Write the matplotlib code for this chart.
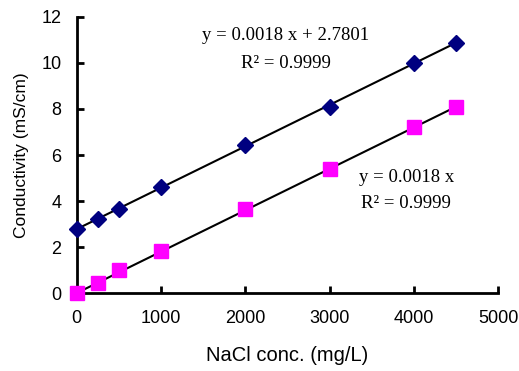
import matplotlib
matplotlib.use("Agg")
import matplotlib.pyplot as plt
import numpy as np

conc = [0, 250, 500, 1000, 2000, 3000, 4000, 4500]
cond_a = [2.78, 3.22, 3.65, 4.61, 6.45, 8.10, 10.02, 10.87]
cond_b = [0.01, 0.43, 0.98, 1.83, 3.67, 5.41, 7.22, 8.10]
fit_a = [0.0018, 2.7801]
fit_b = [0.0018, 0.0]
xticks = [0, 1000, 2000, 3000, 4000, 5000]
yticks = [0, 2, 4, 6, 8, 10, 12]

fig = plt.figure(figsize=(5.19, 3.71), dpi=100)
ax = fig.add_axes([0.148, 0.2102, 0.812, 0.744])

xl = np.array([conc[0], conc[-1]])
ax.plot(xl, fit_a[0] * xl + fit_a[1], color="black", lw=1.5, zorder=2)
ax.plot(xl, fit_b[0] * xl + fit_b[1], color="black", lw=1.5, zorder=2)
ax.plot(conc, cond_a, linestyle="none", marker="D", ms=8.5, color="#000080",
        mec="#000080", zorder=3, clip_on=False)
ax.plot(conc, cond_b, linestyle="none", marker="s", ms=9.5, color="#FF00FF",
        mec="#FF00FF", zorder=3, clip_on=False)

ax.set_xlim(0, 5000)
ax.set_ylim(0, 12)
ax.set_xticks(xticks)
ax.set_yticks(yticks)
for s in ["top", "right"]:
    ax.spines[s].set_visible(False)
for s in ["left", "bottom"]:
    ax.spines[s].set_linewidth(2)
ax.tick_params(direction="in", length=5, width=2, labelsize=13)
ax.tick_params(axis="x", pad=12)
ax.tick_params(axis="y", pad=11)
for lab in ax.get_xticklabels() + ax.get_yticklabels():
    lab.set_fontfamily("Liberation Sans")

ax.set_xlabel("NaCl conc. (mg/L)", fontsize=14.5, family="Liberation Sans", labelpad=14)
ax.set_ylabel("Conductivity (mS/cm)", fontsize=12.5, family="Liberation Sans", labelpad=9)

serif = "Liberation Serif"
fig.text(286 / 519, 1 - 36 / 371, "y = 0.0018 x + 2.7801", fontsize=13.5, family=serif,
         ha="center", va="center")
fig.text(286 / 519, 1 - 63 / 371, "R² = 0.9999", fontsize=13.5, family=serif,
         ha="center", va="center")
fig.text(407 / 519, 1 - 177 / 371, "y = 0.0018 x", fontsize=13.5, family=serif,
         ha="center", va="center")
fig.text(406 / 519, 1 - 203 / 371, "R² = 0.9999", fontsize=13.5, family=serif,
         ha="center", va="center")

fig.savefig("out.png", dpi=100)
